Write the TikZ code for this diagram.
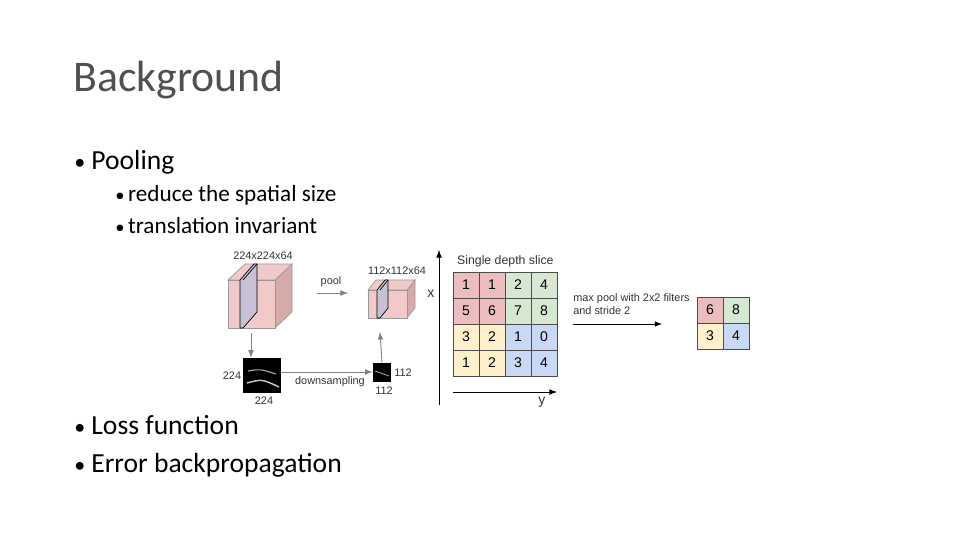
\documentclass[tikz,border=0pt]{standalone}
\usepackage{fontspec}
\setmainfont{Carlito}
\newfontfamily\figfont{Liberation Sans}
\usetikzlibrary{positioning}
\definecolor{titlegray}{HTML}{505050}
\definecolor{cellred}{HTML}{EDBDBD}
\definecolor{cellgreen}{HTML}{D6E8D2}
\definecolor{cellyellow}{HTML}{FDF0CB}
\definecolor{cellblue}{HTML}{C9D8F5}
\definecolor{cubefront}{HTML}{F2C9C9}
\definecolor{cubeside}{HTML}{D7AAAA}
\definecolor{slab}{HTML}{C8C0D6}
\newcommand{\pt}{{\scalebox{0.8}{\textbullet}}}
\tikzset{
  bullet/.style={anchor=west,inner sep=0pt,font=\fontsize{15.7}{18}\selectfont},
  subbullet/.style={anchor=west,inner sep=0pt,font=\fontsize{13.2}{16}\selectfont},
  small/.style={inner sep=0pt,text=black!80,font=\figfont\fontsize{6.2}{7.4}\selectfont},
  cell/.style={draw=black!70,minimum size=26*0.02cm,inner sep=0pt,font=\figfont\fontsize{8}{9}\selectfont},
  thin arrow/.style={->,>=latex,gray,line width=0.5pt},
}
\begin{document}
\begin{tikzpicture}[x=0.02cm,y=-0.02cm]
  \useasboundingbox (0,0) rectangle (960,540);
  % text
  \node[anchor=west,inner sep=0pt,text=titlegray,font=\fontsize{24.9}{28}\selectfont] (Title) at (73,80) {Background};
  \node[bullet] (Pool) at (74,162) {\pt\hspace{0.22em}Pooling};
  \node[subbullet] (Reduce) at (115,195) {\pt\hspace{0.15em}reduce the spatial size};
  \node[subbullet] (Trans) at (115,226) {\pt\hspace{0.15em}translation invariant};
  \node[bullet] (Loss) at (74,425) {\pt\hspace{0.22em}Loss function};
  \node[bullet] (Err) at (74,465) {\pt\hspace{0.22em}Error backpropagation};
  % big volume
  \filldraw[fill=cubeside,draw=black!40] (275,280) -- (292,264) -- (292,312) -- (275,328) -- cycle;
  \filldraw[fill=cubefront,draw=black!40] (228,280) -- (245,264) -- (292,264) -- (275,280) -- cycle;
  \filldraw[fill=cubefront,draw=black!40] (228,280) rectangle (275,328);
  \filldraw[fill=slab,draw=black] (240,280) -- (254,264) -- (257,264) -- (257,312) -- (243,328) -- (240,328) -- cycle;
  \draw (243,280) -- (257,264);
  \node[small] (BigLabel) at (263,256) {224x224x64};
  % small volume
  \filldraw[fill=cubeside,draw=black!40] (407,290) -- (415,280) -- (415,308) -- (407,318) -- cycle;
  \filldraw[fill=cubefront,draw=black!40] (368,290) -- (376,280) -- (415,280) -- (407,290) -- cycle;
  \filldraw[fill=cubefront,draw=black!40] (368,290) rectangle (407,318);
  \filldraw[fill=slab,draw=black] (377,290) -- (385,280) -- (388,280) -- (388,308) -- (380,318) -- (377,318) -- cycle;
  \draw (380,290) -- (388,280);
  \node[small] (SmallLabel) at (397,271) {112x112x64};
  % pool arrow
  \coordinate (PoolA) at (317,293);
  \coordinate (PoolB) at (348,293);
  \draw[thin arrow] (PoolA) -- (PoolB);
  \node[small] (PoolLabel) at (331,282) {pool};
  % images
  \fill[black] (243,358) rectangle (281,393);
  \draw[white!70!black,line width=0.6pt] (248,371) .. controls (260,369) .. (276,374);
  \draw[white!80!black,line width=0.8pt] (247,383) .. controls (262,379) .. (279,387);
  \fill[black] (373,363) rectangle (391,382);
  \draw[white!75!black,line width=0.4pt] (375,371) -- (389,376);
  \node (BigImg) at (262,375.5) [minimum width=38*0.02cm,minimum height=35*0.02cm,inner sep=0pt] {};
  \node (SmallImg) at (382,372.5) [minimum width=18*0.02cm,minimum height=19*0.02cm,inner sep=0pt] {};
  \node[small] (BigH) at (232,376) {224};
  \node[small] (BigW) at (264,401) {224};
  \node[small] (SmallH) at (403,373) {112};
  \node[small] (SmallW) at (384,391) {112};
  \draw[thin arrow] (251,333) -- (BigImg.north -| 251,0);
  \draw[thin arrow] (BigImg.east |- 0,372) -- (SmallImg.west |- 0,372);
  \node[small] (Down) at (330,382) {downsampling};
  \draw[thin arrow] (SmallImg.north) -- (380,332);
  % depth slice
  \foreach \r/\a/\b/\c/\d [count=\i] in {0/1/1/2/4,1/5/6/7/8,2/3/2/1/0,3/1/2/3/4}{
    \ifnum\i<3 \def\lc{cellred}\def\rc{cellgreen}\else\def\lc{cellyellow}\def\rc{cellblue}\fi
    \node[cell,fill=\lc] (G\i-1) at (466,285+26*\r) {\a};
    \node[cell,fill=\lc] (G\i-2) at (492,285+26*\r) {\b};
    \node[cell,fill=\rc] (G\i-3) at (518,285+26*\r) {\c};
    \node[cell,fill=\rc] (G\i-4) at (544,285+26*\r) {\d};
  }
  \node[small,font=\figfont\fontsize{7}{8}\selectfont,above=4*0.02cm of G1-2.north east] (SliceLabel) {Single depth slice};
  \coordinate (XFoot) at (439,405);
  \coordinate (XHead) at (439,250);
  \draw[->,>=latex,line width=0.5pt] (XFoot) -- (XHead);
  \node[small,font=\figfont\fontsize{8}{9}\selectfont] (XLabel) at (431,294) {x};
  \coordinate (YFoot) at (453,392);
  \coordinate (YHead) at (557,392);
  \draw[->,>=latex,line width=0.5pt] (YFoot) -- (YHead);
  \node[small,font=\figfont\fontsize{8}{9}\selectfont] (YLabel) at (542,402) {y};
  % max pool
  \coordinate (MaxA) at (573,324);
  \coordinate (MaxB) at (662,324);
  \draw[->,>=latex,line width=0.4pt] (MaxA) -- (MaxB);
  \node[small,anchor=west,align=left] (MaxLabel) at (573,304) {max pool with 2x2 filters\\and stride 2};
  \node[cell,fill=cellred] (O1) at (710,310) {6};
  \node[cell,fill=cellgreen] (O2) at (736,310) {8};
  \node[cell,fill=cellyellow] (O3) at (710,336) {3};
  \node[cell,fill=cellblue] (O4) at (736,336) {4};
\end{tikzpicture}
\end{document}
